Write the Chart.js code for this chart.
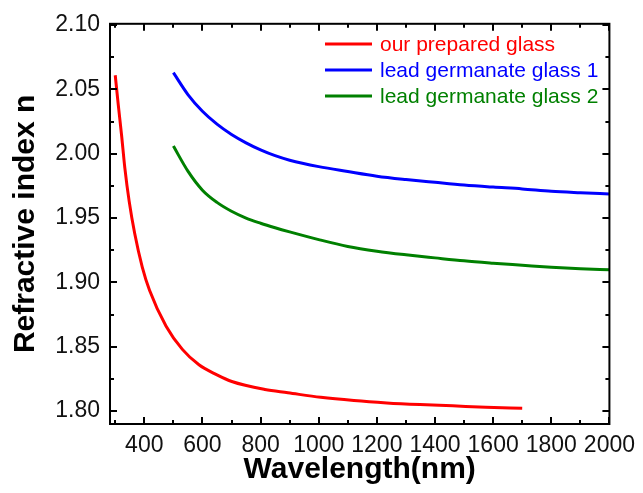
<!DOCTYPE html>
<html>
<head>
<meta charset="utf-8">
<script src="https://cdn.jsdelivr.net/npm/chart.js@4/dist/chart.umd.min.js"></script>
<style>
  body { margin: 0; background: #fff; }
  #wrap { width: 643px; height: 493px; }
</style>
</head>
<body>
<div id="wrap"><canvas id="chart" width="643" height="493"></canvas></div>
<script>
// refractive index vs wavelength
const ourWl = [300, 310, 322, 333, 348, 367, 393, 418, 475, 531, 588, 650, 701, 815, 894, 1007, 1121, 1234, 1348, 1461, 1575, 1700];
const ourN = [2.061, 2.039, 2.014, 1.989, 1.963, 1.938, 1.912, 1.894, 1.866, 1.848, 1.836, 1.8282, 1.823, 1.8168, 1.8143, 1.8107, 1.8082, 1.8064, 1.8051, 1.8041, 1.8030, 1.8023];

const lg1Wl = [500, 550, 600, 650, 700, 750, 800, 850, 900, 1000, 1100, 1200, 1300, 1400, 1500, 1600, 1700, 1800, 1900, 2000];
const lg1N = [2.063, 2.046, 2.033, 2.023, 2.015, 2.0085, 2.003, 1.9985, 1.995, 1.990, 1.9862, 1.9826, 1.980, 1.9778, 1.9757, 1.9741, 1.9727, 1.9708, 1.9697, 1.9688];

const lg2Wl = [500, 550, 600, 650, 700, 750, 800, 850, 900, 1000, 1100, 1200, 1300, 1400, 1500, 1600, 1700, 1800, 1900, 2000];
const lg2N = [2.006, 1.9865, 1.9717, 1.9622, 1.9553, 1.9500, 1.9460, 1.9425, 1.9393, 1.9333, 1.9280, 1.9243, 1.9215, 1.9191, 1.9168, 1.9150, 1.9134, 1.9118, 1.9106, 1.9098];

const seriesNames = ['our prepared glass', 'lead germanate glass 1', 'lead germanate glass 2'];
const seriesColors = ['#ff0000', '#0000ff', '#008000'];

const xTicks = [400, 600, 800, 1000, 1200, 1400, 1600, 1800, 2000];
const xMinor = [300, 500, 700, 900, 1100, 1300, 1500, 1700, 1900];
const yTicks = [1.80, 1.85, 1.90, 1.95, 2.00, 2.05, 2.10];
const yMinor = [1.825, 1.875, 1.925, 1.975, 2.025, 2.075];

const FONT = "'Liberation Sans', Arial, sans-serif";

const toPoints = (xs, ys) => xs.map((x, i) => ({ x: x, y: ys[i] }));

// box around the plot with inward ticks on all four sides
const framePlugin = {
  id: 'frame',
  afterDraw(chart) {
    const { ctx, chartArea: a } = chart;
    const xs = chart.scales.x, ys = chart.scales.y;
    ctx.save();
    ctx.strokeStyle = '#000';
    ctx.lineWidth = 2;
    ctx.beginPath();
    const tick = (len, vals, horiz) => {
      vals.forEach(v => {
        if (horiz) {
          const px = Math.round(xs.getPixelForValue(v));
          ctx.moveTo(px, a.bottom); ctx.lineTo(px, a.bottom - len);
          ctx.moveTo(px, a.top); ctx.lineTo(px, a.top + len);
        } else {
          const py = Math.round(ys.getPixelForValue(v));
          ctx.moveTo(a.left, py); ctx.lineTo(a.left + len, py);
          ctx.moveTo(a.right, py); ctx.lineTo(a.right - len, py);
        }
      });
    };
    tick(7, xTicks, true);
    tick(4, xMinor, true);
    tick(7, yTicks, false);
    tick(4, yMinor, false);
    ctx.stroke();
    ctx.strokeRect(a.left, a.top, a.right - a.left, a.bottom - a.top);
    ctx.restore();
  }
};

// legend inside the plot, text coloured like its line
const legendPlugin = {
  id: 'innerLegend',
  afterDraw(chart) {
    const ctx = chart.ctx;
    ctx.save();
    ctx.font = '21px ' + FONT;
    ctx.textBaseline = 'middle';
    chart.data.datasets.forEach((ds, i) => {
      const y = 44 + i * 26;
      ctx.strokeStyle = ds.borderColor;
      ctx.lineWidth = 3;
      ctx.beginPath();
      ctx.moveTo(325, y);
      ctx.lineTo(372, y);
      ctx.stroke();
      ctx.fillStyle = ds.borderColor;
      ctx.fillText(ds.label, 380, y + 1);
    });
    ctx.restore();
  }
};

const datasets = [
  toPoints(ourWl, ourN),
  toPoints(lg1Wl, lg1N),
  toPoints(lg2Wl, lg2N)
].map((pts, i) => ({
  label: seriesNames[i],
  data: pts,
  borderColor: seriesColors[i],
  borderWidth: 3,
  pointRadius: 0,
  fill: false,
  cubicInterpolationMode: 'monotone'
}));

new Chart(document.getElementById('chart'), {
  type: 'line',
  data: { datasets: datasets },
  options: {
    responsive: false,
    animation: false,
    layout: { padding: { top: 16, right: 28, left: 0, bottom: 0 } },
    plugins: { legend: { display: false }, tooltip: { enabled: false } },
    scales: {
      x: {
        type: 'linear',
        min: 282,
        max: 2000,
        grid: { display: false, drawTicks: false },
        border: { display: false },
        afterBuildTicks: s => { s.ticks = xTicks.map(v => ({ value: v })); },
        afterFit: s => { s.height = 69; },
        ticks: {
          padding: 8,
          maxRotation: 0,
          autoSkip: false,
          color: '#111',
          font: { family: FONT, size: 23 },
          callback: v => String(v)
        },
        title: {
          display: true,
          text: 'Wavelength(nm)',
          color: '#000',
          padding: { top: 0, bottom: 5 },
          font: { family: FONT, size: 30, weight: 'bold' }
        }
      },
      y: {
        type: 'linear',
        min: 1.790,
        max: 2.101,
        grid: { display: false, drawTicks: false },
        border: { display: false },
        afterBuildTicks: s => { s.ticks = yTicks.map(v => ({ value: v })); },
        afterFit: s => { s.width = 110; },
        ticks: {
          padding: 10,
          color: '#111',
          font: { family: FONT, size: 23 },
          callback: v => v.toFixed(2)
        },
        title: {
          display: true,
          text: 'Refractive index n',
          color: '#000',
          padding: { top: 8, bottom: 0 },
          font: { family: FONT, size: 30, weight: 'bold' }
        }
      }
    }
  },
  plugins: [framePlugin, legendPlugin]
});
</script>
</body>
</html>
